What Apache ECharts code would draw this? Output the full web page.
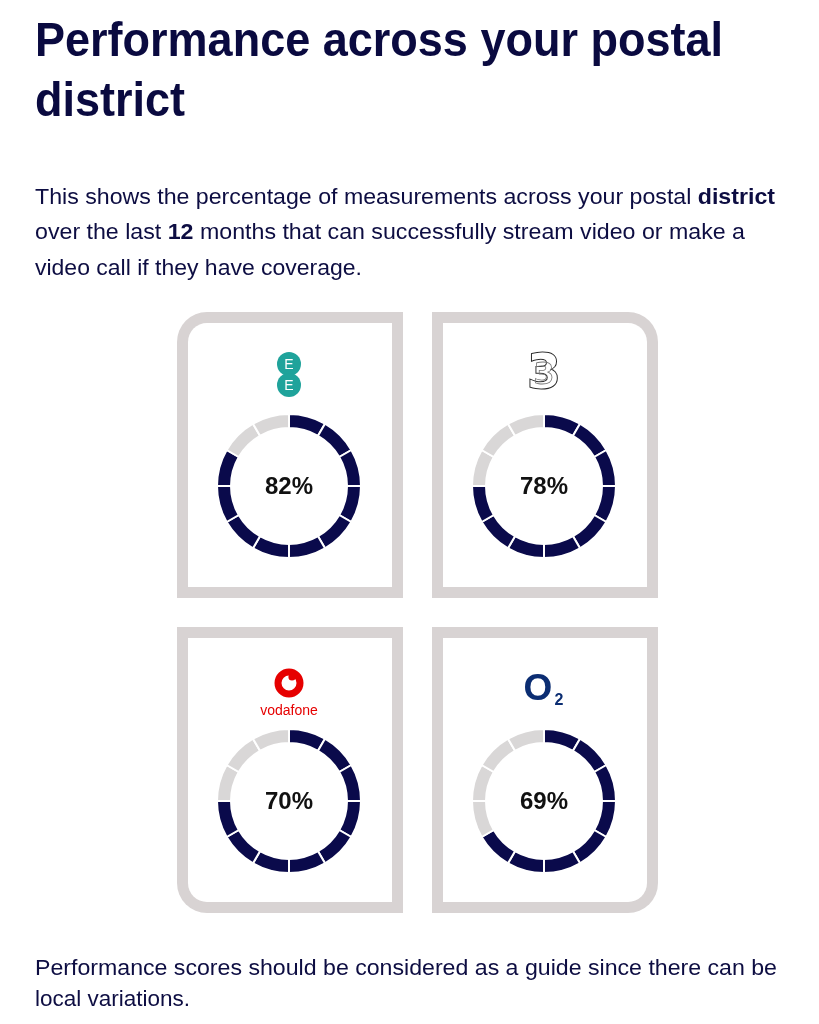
<!DOCTYPE html>
<html>
<head>
<meta charset="utf-8">
<script src="https://cdn.jsdelivr.net/npm/echarts@6/dist/echarts.min.js"></script>
<style>
  html, body { margin:0; padding:0; background:#fff; width:819px; height:1024px; overflow:hidden; }
  #chart { position:absolute; left:0; top:0; width:819px; height:1024px; }
  .t { position:absolute; left:35px; white-space:nowrap; font-family:"Liberation Sans", Arial, sans-serif; color:#0d0d42; transform-origin:0 0; z-index:2; }
  .h { font-size:48px; line-height:48px; font-weight:bold; color:#0a0a40; }
  .p { font-size:22px; line-height:22px; }
  .p b { font-weight:bold; }
</style>
</head>
<body>
<div id="chart"></div>
<div class="t h" style="top:16px" data-w="688">Performance across your postal</div>
<div class="t h" style="top:76px" data-w="150">district</div>
<div class="t p" style="top:186px" data-w="740">This shows the percentage of measurements across your postal <b>district</b></div>
<div class="t p" style="top:221px" data-w="710">over the last <b>12</b> months that can successfully stream video or make a</div>
<div class="t p" style="top:257px" data-w="327">video call if they have coverage.</div>
<div class="t p" style="top:957px" data-w="742">Performance scores should be considered as a guide since there can be</div>
<div class="t p" style="top:988px" data-w="155">local variations.</div>
<script>
// ---- data ----
const operators = ['EE', 'Three', 'Vodafone', 'O2'];
const scores = [82, 78, 70, 69];            // percentage shown in each donut
const filledSegments = [10, 9, 9, 8];       // dark segments of each 12-part ring
const segmentCount = 12;

// ---- layout ----
const centers = [[289, 486], [544, 486], [289, 801], [544, 801]];
const panels = [
  { x: 177, y: 312, corner: 0 },
  { x: 432, y: 312, corner: 1 },
  { x: 177, y: 627, corner: 3 },
  { x: 432, y: 627, corner: 2 }
];
const DARK = '#0a0a4b', LIGHT = '#d9d7d7', BORDER = '#d8d3d3';
const PW = 226, PH = 286, BW = 11, RO = 30, RI = 19;

const chart = echarts.init(document.getElementById('chart'), null, { renderer: 'canvas' });

const graphics = [];
panels.forEach(p => {
  const ro = [0, 0, 0, 0], ri = [0, 0, 0, 0];
  ro[p.corner] = RO; ri[p.corner] = RI;
  graphics.push({
    type: 'rect', z: 0,
    shape: { x: p.x, y: p.y, width: PW, height: PH, r: ro },
    style: { fill: BORDER }
  });
  graphics.push({
    type: 'rect', z: 1,
    shape: { x: p.x + BW, y: p.y + BW, width: PW - 2 * BW, height: PH - 2 * BW, r: ri },
    style: { fill: '#fff' }
  });
});

// EE logo
[[289, 364], [289, 385]].forEach(c => {
  graphics.push({ type: 'circle', z: 5, shape: { cx: c[0], cy: c[1], r: 12 }, style: { fill: '#1fa39b' } });
});
[[289, 364], [289, 385]].forEach(c => {
  graphics.push({ type: 'text', z: 6, x: c[0], y: c[1] + 1,
    style: { text: 'E', fill: '#fff', font: '14px "Liberation Sans", Arial, sans-serif', align: 'center', verticalAlign: 'middle' } });
});

// Three logo
graphics.push({ type: 'text', z: 5, x: 544, y: 376,
  style: { text: '3', fill: '#fff', stroke: '#2a2a2a', lineWidth: 2,
    font: 'bold 48px "DejaVu Sans", sans-serif', align: 'center', verticalAlign: 'middle' } });
graphics.push({ type: 'text', z: 6, x: 544, y: 376,
  style: { text: '3', fill: 'none', stroke: '#777', lineWidth: 0.8,
    font: 'bold 30px "DejaVu Sans", sans-serif', align: 'center', verticalAlign: 'middle' } });

// Vodafone logo
graphics.push({ type: 'circle', z: 5, shape: { cx: 289, cy: 683, r: 11 }, style: { fill: 'none', stroke: '#e60000', lineWidth: 7 } });
graphics.push({ type: 'circle', z: 6, shape: { cx: 292, cy: 677, r: 3.6 }, style: { fill: '#e60000' } });
graphics.push({ type: 'text', z: 5, x: 289, y: 711,
  style: { text: 'vodafone', fill: '#e60000', font: '14px "Liberation Sans", Arial, sans-serif', align: 'center', verticalAlign: 'middle' } });

// O2 logo
graphics.push({ type: 'text', z: 5, x: 538, y: 690,
  style: { text: 'O', fill: '#0b2d72', font: 'bold 37px "Liberation Sans", Arial, sans-serif', align: 'center', verticalAlign: 'middle' } });
graphics.push({ type: 'text', z: 5, x: 559, y: 701,
  style: { text: '2', fill: '#0b2d72', font: 'bold 16px "Liberation Sans", Arial, sans-serif', align: 'center', verticalAlign: 'middle' } });

// percentage labels
scores.forEach((s, i) => {
  graphics.push({ type: 'text', z: 10, x: centers[i][0], y: centers[i][1] + 1,
    style: { text: s + '%', fill: '#111', font: 'bold 24px "Liberation Sans", Arial, sans-serif', align: 'center', verticalAlign: 'middle' } });
});

const series = operators.map((op, i) => ({
  type: 'pie',
  name: op,
  center: centers[i],
  radius: [58, 72],
  startAngle: 90,
  clockwise: true,
  silent: true,
  z: 5,
  label: { show: false },
  labelLine: { show: false },
  itemStyle: { borderColor: '#fff', borderWidth: 2 },
  data: Array.from({ length: segmentCount }, (_, k) => ({
    value: 1,
    itemStyle: { color: k < filledSegments[i] ? DARK : LIGHT }
  }))
}));

chart.setOption({
  animation: false,
  backgroundColor: '#fff',
  graphic: graphics,
  series: series
});

// fit text widths to the reference line lengths
document.querySelectorAll('.t').forEach(el => {
  const w = el.getBoundingClientRect().width;
  const target = +el.dataset.w;
  if (w > 0) el.style.transform = 'scaleX(' + (target / w) + ')';
});
</script>
</body>
</html>
